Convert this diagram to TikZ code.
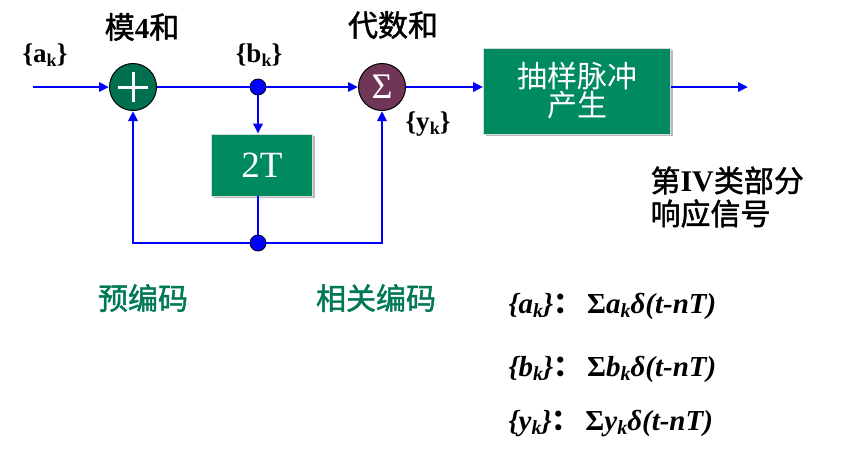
\documentclass[tikz,border=0pt]{standalone}
\usepackage{fontspec}
\setmainfont{Liberation Serif}
\newfontfamily\cjk[FakeBold=1.5]{Noto Sans CJK SC}
\newfontfamily\cjkr{Noto Sans CJK SC}
\usetikzlibrary{arrows.meta,shadows}
\definecolor{boxgreen}{RGB}{0,138,96}
\definecolor{addgreen}{RGB}{0,112,80}
\definecolor{summaroon}{RGB}{112,54,88}
\definecolor{txtgreen}{RGB}{0,120,86}
\newcommand\fsz[1]{\fontsize{#1}{#1}\selectfont}
\newcommand\lk[2][18]{\raisebox{-0.35ex}{\fsz{#1}#2}}
\begin{document}
\begin{tikzpicture}[x=1pt,y=-1pt,
  wire/.style={blue, line width=2.8pt},
  arr/.style={wire, -{Triangle[length=10pt,width=9pt]}},
  junc/.style={circle, fill=blue, draw=black, line width=0.8pt, minimum size=16pt, inner sep=0pt},
  blk/.style={rectangle, fill=boxgreen, draw=white!85!black, line width=0.6pt, text=white, inner sep=0pt,
     drop shadow={shadow xshift=2pt, shadow yshift=-2pt, opacity=1, fill=gray!55}},
  opc/.style={circle, draw=black, line width=1pt, minimum size=47pt, inner sep=0pt},
  lbl/.style={font=\fsz{27}\bfseries},
  cjklbl/.style={font=\fsz{30}\cjk},
  fml/.style={anchor=west, font=\fsz{29}\bfseries\itshape}]
\useasboundingbox (0,0) rectangle (864,451);

\coordinate (in) at (33,87);
\coordinate (out) at (748,87);
\node[opc, fill=addgreen] (add) at (133,87) {};
\draw[white, line width=3pt] ([xshift=-15pt]add.center) -- ([xshift=15pt]add.center);
\draw[white, line width=3pt] ([yshift=-15pt]add.center) -- ([yshift=15pt]add.center);
\node[junc] (bdot) at (258,87) {};
\node[opc, fill=summaroon, text=white, font=\fsz{36}] (sum) at (382,87) {Σ};
\node[blk, minimum width=187pt, minimum height=86pt, font=\fsz{30}\cjkr, align=center] (samp) at (577,91) {抽样脉冲\\[-1pt]产生};
\node[blk, minimum width=101pt, minimum height=62pt, font=\fsz{37}] (d2T) at (262,165) {2T};
\node[junc] (fdot) at (258,243) {};

\draw[arr] (in) -- (add);
\draw[wire] (add) -- (bdot);
\draw[arr] (bdot) -- (sum);
\draw[arr] (sum) -- (samp.west |- sum);
\draw[arr] (samp.east |- out) -- (out);
\draw[arr] (bdot) -- (bdot |- d2T.north);
\draw[wire] (fdot |- d2T.south) -- (fdot);
\draw[arr] (fdot) -| (add);
\draw[arr] (fdot) -| (sum);

\node[lbl] (la) at (45,55) {\{a\lk{k}\}};
\node[lbl] (lb) at (259,55) {\{b\lk{k}\}};
\node[lbl] (ly) at (428,124) {\{y\lk{k}\}};
\node[cjklbl] (t1) at (142,27) {模{\rmfamily\bfseries\fsz{29}4}和};
\node[cjklbl] (t2) at (393,25) {代数和};
\node[cjklbl, anchor=west, align=left] (t3) at (647,197) {第{\rmfamily\bfseries IV}类部分\\[3pt]响应信号};
\node[cjklbl, text=txtgreen] (t4) at (143,298) {预编码};
\node[cjklbl, text=txtgreen] (t5) at (376,298) {相关编码};

\node[fml] (f1) at (505,306) {\{a\lk[20]{k}\}{\upshape\cjkr：}\,{\upshape Σ}a\lk[20]{k}δ(t-nT)};
\node[fml] (f2) at (505,369) {\{b\lk[20]{k}\}{\upshape\cjkr：}\,{\upshape Σ}b\lk[20]{k}δ(t-nT)};
\node[fml] (f3) at (505,423) {\{y\lk[20]{k}\}{\upshape\cjkr：}\,{\upshape Σ}y\lk[20]{k}δ(t-nT)};
\end{tikzpicture}
\end{document}
